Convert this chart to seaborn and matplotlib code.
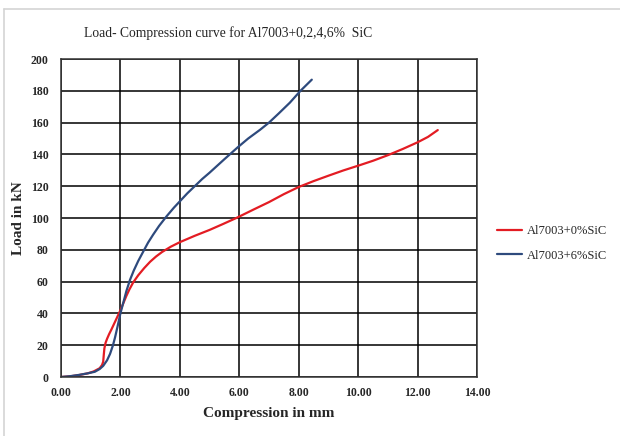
import pandas as pd
import matplotlib
matplotlib.use("Agg")
import matplotlib.pyplot as plt
import seaborn as sns
from matplotlib.lines import Line2D

# data
red_x = [0, 0.3, 0.6, 0.9, 1.1, 1.3, 1.38, 1.42, 1.44, 1.46, 1.5, 1.55, 1.62, 1.70,
         1.8, 1.9, 2.0, 2.1, 2.2, 2.3, 2.43, 2.6, 2.8, 3.0, 3.2, 3.4, 3.7, 4.0,
         4.5, 5.0, 5.45, 5.9, 6.5, 7.0, 7.5, 8.0, 8.5, 9.0, 9.5, 10.05, 10.5, 11.0,
         11.5, 12.0, 12.35, 12.68]
red_y = [0, 0.4, 1.2, 2.3, 3.5, 5.5, 7.5, 9.6, 14, 18, 21.5, 24, 27, 30,
         34, 38, 42, 46.5, 51, 55, 59.5, 64, 68.5, 72.5, 75.8, 78.6, 82, 84.8,
         88.8, 92.5, 96.2, 100, 105.5, 110, 115, 119.5, 123.2, 126.6, 129.9, 133.2, 136, 139.5,
         143.4, 147.6, 151, 155.3]

blue_x = [0, 0.3, 0.6, 0.9, 1.14, 1.3, 1.42, 1.55, 1.65, 1.75, 1.82, 1.9, 2.0,
          2.1, 2.2, 2.32, 2.45, 2.6, 2.8, 2.93, 3.1, 3.3, 3.55, 3.8, 4.0, 4.25,
          4.5, 4.75, 5.0, 5.5, 5.95, 6.3, 6.7, 7.0, 7.33, 7.7, 8.06, 8.44]
blue_y = [0, 0.5, 1.3, 2.3, 3.3, 5, 7, 10.5, 14.5, 20, 25, 31.5, 40,
          47, 54, 61, 67, 73, 80, 84.5, 89.5, 95, 101, 106.5, 110.5, 115.5,
          120, 124.5, 128.5, 137, 144.5, 150, 155.5, 160, 165.8, 172.5, 180, 187]

labels = ["Al7003+0%SiC", "Al7003+6%SiC"]
colors = ["#e31c23", "#2e4a7d"]

df = pd.concat([
    pd.DataFrame({"x": red_x, "y": red_y, "series": labels[0]}),
    pd.DataFrame({"x": blue_x, "y": blue_y, "series": labels[1]}),
])

sns.set_style("white")
plt.rcParams["font.family"] = ["Liberation Serif", "DejaVu Serif"]

fig = plt.figure(figsize=(6.2, 4.36), dpi=100)
ax = fig.add_axes([61 / 620, 59 / 436, 416 / 620, 318 / 436])

sns.lineplot(data=df, x="x", y="y", hue="series", palette=colors, sort=False,
             estimator=None, units="series", linewidth=1.6, legend=False, ax=ax)

ax.set_xlim(0, 14)
ax.set_ylim(0, 200)
ax.set_xticks(range(0, 15, 2))
ax.set_xticklabels([f"{v:.2f}" for v in range(0, 15, 2)])
ax.set_yticks(range(0, 201, 20))
ax.grid(True, color="black", linewidth=1.1)
ax.set_axisbelow(True)
for s in ax.spines.values():
    s.set_color("#333333")
    s.set_linewidth(1.1)
ax.tick_params(length=0, labelsize=8.5)
ax.tick_params(axis="x", pad=7)
ax.tick_params(axis="y", pad=9)
for t in ax.get_xticklabels() + ax.get_yticklabels():
    t.set_fontweight("bold")

ax.set_xlabel("Compression in mm", fontsize=11, fontweight="bold", labelpad=6)
ax.set_ylabel("Load in kN", fontsize=11, fontweight="bold", labelpad=4)

fig.text(228 / 620, 1 - 33 / 436, "Load- Compression curve for Al7003+0,2,4,6%  SiC",
         ha="center", va="center", fontsize=9.8)

handles = [Line2D([], [], color=c, linewidth=1.6) for c in colors]
ax.legend(handles, labels, loc="center left", bbox_to_anchor=(1.02, 0.42),
          frameon=False, fontsize=9, handlelength=2.0, handletextpad=0.4,
          labelspacing=1.0)

# light frame around the picture
fig.add_artist(Line2D([4 / 620, 4 / 620], [0, 1 - 9 / 436], color="#d4d4d4",
                      linewidth=1.2, transform=fig.transFigure))
fig.add_artist(Line2D([4 / 620, 1], [1 - 9 / 436, 1 - 9 / 436], color="#d4d4d4",
                      linewidth=1.2, transform=fig.transFigure))

fig.savefig("out.png", dpi=100)
